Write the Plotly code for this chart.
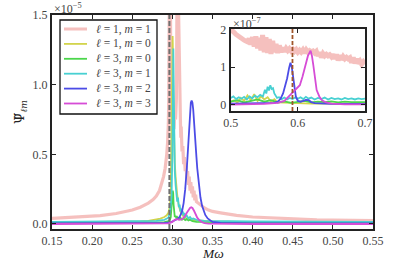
import plotly.graph_objects as go

# ---------------- main panel data (units of 1e-5) ----------------
l1m1_x = [0.150,0.170,0.190,0.210,0.230,0.250,0.260,0.270,0.276,0.280,0.284,0.287,0.289,0.291,0.292,0.293,0.294,0.2945,0.295,0.2955,0.296,0.2965,0.297,0.2975,0.298,0.299,0.300,0.301,0.302,0.303,0.304,0.305,0.3055,0.306,0.3065,0.307,0.3075,0.308,0.3085,0.309,0.3095,0.310,0.3105,0.311,0.312,0.313,0.314,0.315,0.316,0.317,0.318,0.319,0.320,0.321,0.322,0.323,0.324,0.325,0.326,0.327,0.328,0.329,0.330,0.332,0.334,0.336,0.338,0.340,0.345,0.350,0.360,0.370,0.380,0.400,0.420,0.450,0.480,0.500,0.550]
l1m1_y = [0.040,0.046,0.052,0.060,0.075,0.100,0.120,0.150,0.175,0.200,0.240,0.290,0.340,0.400,0.440,0.500,0.580,0.640,0.720,0.900,1.600,2.200,2.400,1.800,0.950,0.820,0.700,0.760,0.680,0.800,0.750,0.900,1.600,2.200,2.300,1.900,1.600,1.350,1.350,1.300,0.900,0.750,0.620,0.700,0.520,0.560,0.430,0.480,0.380,0.440,0.320,0.380,0.280,0.340,0.240,0.300,0.220,0.270,0.190,0.240,0.170,0.210,0.160,0.150,0.140,0.135,0.125,0.115,0.100,0.090,0.080,0.070,0.062,0.050,0.044,0.036,0.030,0.028,0.024]

l1m0_x = [0.15,0.20,0.24,0.26,0.27,0.28,0.285,0.29,0.293,0.295,0.297,0.298,0.299,0.2995,0.3003,0.3008,0.301,0.3015,0.302,0.303,0.304,0.305,0.306,0.308,0.310,0.313,0.316,0.320,0.330,0.350,0.400,0.550]
l1m0_y = [0.012,0.013,0.015,0.018,0.022,0.030,0.038,0.050,0.062,0.080,0.13,0.25,0.60,1.00,1.35,1.20,0.95,0.75,0.60,0.44,0.34,0.27,0.21,0.13,0.09,0.06,0.045,0.035,0.025,0.018,0.014,0.012]

l3m0_x = [0.15,0.25,0.29,0.295,0.297,0.298,0.299,0.2995,0.3005,0.301,0.3015,0.302,0.3025,0.303,0.304,0.305,0.306,0.308,0.310,0.312,0.314,0.316,0.318,0.320,0.322,0.325,0.330,0.40,0.55]
l3m0_y = [0.010,0.011,0.014,0.020,0.030,0.050,0.10,0.17,0.24,0.22,0.14,0.09,0.07,0.05,0.06,0.04,0.05,0.035,0.045,0.03,0.04,0.028,0.035,0.025,0.03,0.02,0.015,0.011,0.010]

l3m1_x = [0.15,0.20,0.25,0.28,0.29,0.295,0.297,0.299,0.300,0.3005,0.3012,0.3017,0.302,0.3025,0.303,0.304,0.305,0.306,0.307,0.308,0.309,0.310,0.311,0.312,0.313,0.314,0.315,0.316,0.318,0.320,0.322,0.324,0.326,0.330,0.340,0.400,0.550]
l3m1_y = [0.015,0.016,0.018,0.022,0.030,0.045,0.08,0.20,0.50,0.90,1.26,1.00,0.70,0.50,0.38,0.28,0.22,0.16,0.19,0.12,0.14,0.09,0.11,0.07,0.09,0.06,0.08,0.05,0.06,0.04,0.05,0.035,0.04,0.03,0.022,0.018,0.015]

l3m2_x = [0.15,0.25,0.29,0.298,0.302,0.306,0.309,0.312,0.314,0.316,0.318,0.319,0.320,0.321,0.322,0.323,0.324,0.325,0.326,0.327,0.328,0.329,0.330,0.331,0.333,0.335,0.337,0.339,0.341,0.344,0.347,0.350,0.360,0.40,0.55]
l3m2_y = [0.005,0.006,0.008,0.012,0.022,0.035,0.050,0.090,0.150,0.250,0.400,0.500,0.610,0.720,0.810,0.870,0.886,0.870,0.820,0.750,0.660,0.570,0.480,0.400,0.280,0.190,0.130,0.090,0.065,0.040,0.025,0.015,0.008,0.005,0.005]

l3m3_x = [0.15,0.28,0.295,0.300,0.303,0.306,0.309,0.312,0.315,0.318,0.320,0.322,0.3235,0.325,0.327,0.329,0.331,0.334,0.337,0.340,0.345,0.40,0.55]
l3m3_y = [0.000,0.001,0.005,0.015,0.030,0.035,0.030,0.035,0.050,0.080,0.100,0.115,0.120,0.115,0.095,0.070,0.045,0.025,0.012,0.006,0.002,0.000,0.000]

# ---------------- inset data (units of 1e-7) ----------------
in_l1m1_x = [0.5000,0.5025,0.5050,0.5075,0.5100,0.5125,0.5150,0.5175,0.5200,0.5225,0.5250,0.5275,0.5300,0.5325,0.5350,0.5375,0.5400,0.5425,0.5450,0.5475,0.5500,0.5525,0.5550,0.5575,0.5600,0.5625,0.5650,0.5675,0.5700,0.5725,0.5750,0.5775,0.5800,0.5825,0.5850,0.5875,0.5900,0.5925,0.5950,0.5975,0.6000,0.6025,0.6050,0.6075,0.6100,0.6125,0.6150,0.6175,0.6200,0.6225,0.6250,0.6275,0.6300,0.6325,0.6350,0.6375,0.6400,0.6425,0.6450,0.6475,0.6500,0.6525,0.6550,0.6575,0.6600,0.6625,0.6650,0.6675,0.6700,0.6725,0.6750,0.6775,0.6800,0.6825,0.6850,0.6875,0.6900,0.6925,0.6950,0.6975,0.7000]
in_l1m1_y = [2.00,1.98,1.93,1.88,1.84,1.80,1.77,1.74,1.72,1.70,1.68,1.76,1.60,1.80,1.55,1.82,1.50,1.78,1.45,1.86,1.40,1.80,1.38,1.75,1.35,1.70,1.40,1.62,1.38,1.58,1.40,1.52,1.42,1.50,1.44,1.49,1.43,1.48,1.42,1.47,1.40,1.45,1.40,1.46,1.38,1.46,1.40,1.44,1.41,1.43,1.38,1.42,1.30,1.40,1.26,1.36,1.30,1.34,1.30,1.33,1.28,1.34,1.22,1.34,1.18,1.32,1.20,1.28,1.22,1.26,1.22,1.25,1.12,1.26,1.10,1.22,1.10,1.16,1.08,1.14,1.08]

in_l1m0_x = [0.500,0.505,0.510,0.515,0.520,0.525,0.530,0.535,0.540,0.545,0.550,0.555,0.560,0.565,0.570,0.580,0.590,0.600,0.620,0.650,0.700]
in_l1m0_y = [0.08,0.12,0.06,0.18,0.10,0.25,0.12,0.28,0.10,0.22,0.14,0.20,0.08,0.15,0.06,0.05,0.04,0.04,0.03,0.03,0.03]

in_l3m0_x = [0.500,0.510,0.520,0.530,0.540,0.550,0.560,0.570,0.580,0.590,0.600,0.610,0.620,0.630,0.640,0.650,0.660,0.670,0.680,0.690,0.700]
in_l3m0_y = [0.08,0.12,0.06,0.10,0.14,0.08,0.12,0.06,0.09,0.05,0.08,0.10,0.06,0.08,0.07,0.09,0.06,0.08,0.07,0.08,0.07]

in_l3m1_x = [0.500,0.504,0.508,0.512,0.516,0.520,0.524,0.528,0.532,0.536,0.540,0.544,0.548,0.551,0.553,0.555,0.557,0.559,0.561,0.563,0.565,0.567,0.569,0.572,0.576,0.580,0.584,0.588,0.592,0.596,0.600,0.604,0.608,0.612,0.616,0.620,0.625,0.630,0.635,0.640,0.645,0.650,0.655,0.660,0.665,0.670,0.675,0.680,0.685,0.690,0.695,0.700]
in_l3m1_y = [0.18,0.22,0.15,0.20,0.16,0.21,0.14,0.22,0.17,0.24,0.20,0.26,0.22,0.40,0.30,0.48,0.38,0.52,0.42,0.44,0.30,0.22,0.18,0.20,0.15,0.19,0.14,0.18,0.15,0.19,0.16,0.20,0.15,0.21,0.16,0.19,0.14,0.18,0.15,0.19,0.14,0.18,0.15,0.17,0.14,0.18,0.15,0.17,0.14,0.17,0.15,0.16]

in_l3m2_x = [0.50,0.53,0.56,0.565,0.570,0.574,0.578,0.581,0.584,0.587,0.589,0.591,0.593,0.595,0.597,0.600,0.604,0.608,0.612,0.616,0.620,0.625,0.635,0.65,0.70]
in_l3m2_y = [0.03,0.03,0.04,0.05,0.08,0.15,0.30,0.48,0.70,0.98,1.12,1.00,0.70,0.42,0.22,0.10,0.08,0.10,0.13,0.12,0.07,0.04,0.03,0.02,0.02]

in_l3m3_x = [0.50,0.53,0.55,0.57,0.580,0.588,0.596,0.603,0.607,0.611,0.615,0.619,0.621,0.623,0.626,0.628,0.632,0.636,0.642,0.650,0.670,0.700]
in_l3m3_y = [0.00,0.01,0.02,0.05,0.10,0.25,0.40,0.52,0.75,1.06,1.30,1.44,1.30,1.06,0.65,0.39,0.22,0.12,0.06,0.03,0.01,0.01]

labels = ["<i>ℓ</i> = 1, <i>m</i> = 1", "<i>ℓ</i> = 1, <i>m</i> = 0", "<i>ℓ</i> = 3, <i>m</i> = 0",
          "<i>ℓ</i> = 3, <i>m</i> = 1", "<i>ℓ</i> = 3, <i>m</i> = 2", "<i>ℓ</i> = 3, <i>m</i> = 3"]
colors = ["rgba(236,140,136,0.55)", "rgb(210,212,76)", "rgb(76,214,76)",
          "rgb(72,208,210)", "rgb(76,76,230)", "rgb(214,76,214)"]
main_widths = [3.2, 1.8, 1.8, 1.8, 1.8, 1.8]
inset_widths = [5, 1.8, 1.8, 1.8, 1.8, 1.8]
legend_widths = [3, 1.8, 1.8, 1.8, 1.8, 1.8]

main_sets = [(l1m1_x, l1m1_y), (l1m0_x, l1m0_y), (l3m0_x, l3m0_y),
             (l3m1_x, l3m1_y), (l3m2_x, l3m2_y), (l3m3_x, l3m3_y)]
inset_sets = [(in_l1m1_x, in_l1m1_y), (in_l1m0_x, in_l1m0_y), (in_l3m0_x, in_l3m0_y),
              (in_l3m1_x, in_l3m1_y), (in_l3m2_x, in_l3m2_y), (in_l3m3_x, in_l3m3_y)]

FONT = "Liberation Serif, DejaVu Serif, serif"
fig = go.Figure()
for i, (xs, ys) in enumerate(main_sets):
    fig.add_trace(go.Scatter(x=xs, y=ys, mode="lines", name=labels[i],
                             line=dict(color=colors[i], width=main_widths[i]),
                             xaxis="x", yaxis="y", showlegend=False))
for i, (xs, ys) in enumerate(inset_sets):
    fig.add_trace(go.Scatter(x=xs, y=ys, mode="lines", name=labels[i],
                             line=dict(color=colors[i], width=inset_widths[i]),
                             xaxis="x2", yaxis="y2", showlegend=False))

axis_common = dict(showline=True, linecolor="#222", linewidth=2, mirror="allticks",
                   ticks="inside", ticklen=4, tickwidth=1.3, tickcolor="#222",
                   showgrid=False, zeroline=False, automargin=False,
                   tickfont=dict(family=FONT, size=12, color="#444"))

# plot-area geometry (px) used to place the hand-made legend
PW, PH = 321.0, 214.0
def px_x(px):  # figure px -> paper x
    return (px - 52) / PW
def px_y(py):  # figure px -> paper y
    return (229 - py) / PH

shapes = [
    dict(type="line", xref="x", yref="y domain", x0=0.2963, x1=0.2963, y0=0, y1=1,
         line=dict(color="#707070", width=2, dash="5px,2px"), layer="above"),
    dict(type="line", xref="x2", yref="y2 domain", x0=0.592, x1=0.592, y0=0, y1=1,
         line=dict(color="#a0552a", width=1.8, dash="4px,2px"), layer="above"),
    dict(type="rect", xref="paper", yref="paper", x0=px_x(60), x1=px_x(157),
         y0=px_y(114), y1=px_y(20), line=dict(color="#111", width=1.3),
         fillcolor="white", layer="above"),
]
annotations = [
    dict(text="×10<sup>−5</sup>", xref="paper", yref="paper", x=0.0, y=1.0,
         xanchor="left", yanchor="bottom", showarrow=False, xshift=0, yshift=-3,
         font=dict(family=FONT, size=12, color="#444")),
    dict(text="×10<sup>−7</sup>", xref="x2 domain", yref="y2 domain", x=0.0, y=1.0,
         xanchor="left", yanchor="bottom", showarrow=False, xshift=0, yshift=-4,
         font=dict(family=FONT, size=12, color="#444")),
    dict(text="Ψ̃<sub><i>ℓm</i></sub>", xref="paper", yref="paper", x=px_x(20), y=px_y(112),
         xanchor="center", yanchor="middle", showarrow=False, textangle=-90,
         font=dict(family="DejaVu Serif", size=13, color="#222")),
    dict(text="<i>Mω</i>", xref="paper", yref="paper", x=0.5, y=px_y(253.5),
         xanchor="center", yanchor="middle", showarrow=False,
         font=dict(family=FONT, size=13.5, color="#222")),
]
entry_y = [29, 43.9, 58.8, 73.7, 88.6, 103.5]
for i in range(6):
    shapes.append(dict(type="line", xref="paper", yref="paper", x0=px_x(64), x1=px_x(87),
                       y0=px_y(entry_y[i]), y1=px_y(entry_y[i]),
                       line=dict(color=colors[i], width=legend_widths[i]), layer="above"))
    annotations.append(dict(text=labels[i], xref="paper", yref="paper", x=px_x(94),
                            y=px_y(entry_y[i]), xanchor="left", yanchor="middle",
                            showarrow=False, font=dict(family=FONT, size=11.5, color="#444")))

fig.update_layout(
    width=415, height=262,
    margin=dict(l=52, r=42, t=15, b=33),
    paper_bgcolor="white", plot_bgcolor="white",
    font=dict(family=FONT, size=12, color="#222"),
    showlegend=False,
    xaxis=dict(domain=[0, 1], range=[0.15, 0.55], tickvals=[0.15,0.20,0.25,0.30,0.35,0.40,0.45,0.50,0.55],
               ticktext=["0.15","0.20","0.25","0.30","0.35","0.40","0.45","0.50","0.55"],
               **axis_common),
    yaxis=dict(domain=[0, 1], range=[-0.036, 1.5], tickvals=[0.0, 0.5, 1.0, 1.5],
               ticktext=["0.0", "0.5", "1.0", "1.5"], **axis_common),
    xaxis2=dict(domain=[0.5567, 0.975], range=[0.5, 0.7], anchor="y2",
                tickvals=[0.5, 0.6, 0.7], ticktext=["0.5", "0.6", "0.7"], **axis_common),
    yaxis2=dict(domain=[0.551, 0.935], range=[-0.17, 2.02], anchor="x2",
                tickvals=[0, 1, 2], ticktext=["0", "1", "2"], **axis_common),
    shapes=shapes,
    annotations=annotations,
)

fig.write_html("out.html", config={"displayModeBar": False},
               post_script="document.body.style.margin='0';document.body.style.padding='0';")
